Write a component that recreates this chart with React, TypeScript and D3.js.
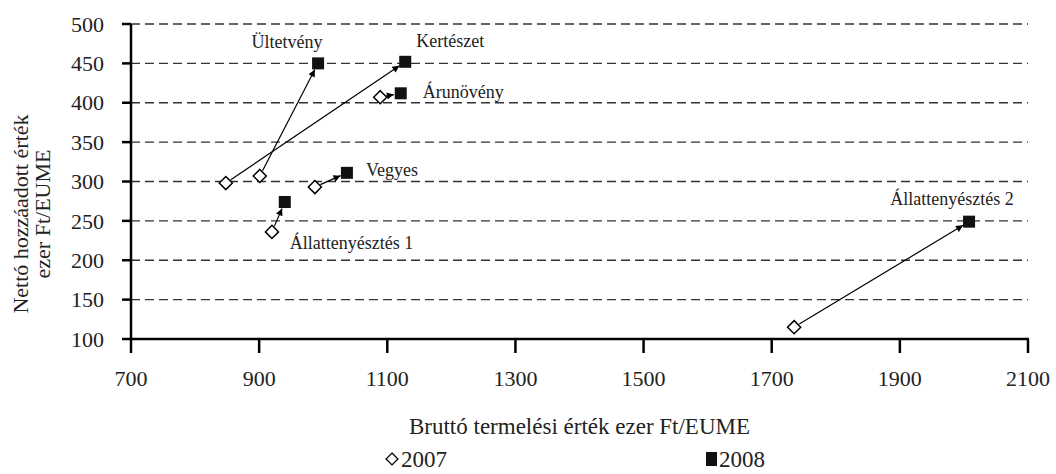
import React from "react";
import * as d3 from "d3";

const categories = ["Ültetvény", "Kertészet", "Árunövény", "Vegyes", "Állattenyésztés 1", "Állattenyésztés 2"];
const x2007 = [901, 848, 1089, 987, 920, 1735];
const y2007 = [307, 298, 407, 293, 236, 115];
const x2008 = [992, 1128, 1121, 1037, 940, 2008];
const y2008 = [450, 452, 412, 311, 274, 249];
const xTicks = [700, 900, 1100, 1300, 1500, 1700, 1900, 2100];
const yTicks = [100, 150, 200, 250, 300, 350, 400, 450, 500];
const seriesNames = ["2007", "2008"];

// label placement per category: [dx, dy, anchor] relative to 2008 point (style only)
const labelPos: [number, number, string][] = [
  [-31, -15, "middle"],
  [45, -15, "middle"],
  [22, 5, "start"],
  [19, 3, "start"],
  [5, 47, "start"],
  [-17, -17, "middle"],
];

const W = 1056, H = 474;
const FONT = "Liberation Serif, Times New Roman, DejaVu Serif, serif";

export default function App() {
  const x = d3.scaleLinear().domain([700, 2100]).range([131, 1028]);
  const y = d3.scaleLinear().domain([100, 500]).range([339, 24]);
  const diamond = d3.symbol().type(d3.symbolDiamond2).size(110)();
  const txt = { fontFamily: FONT, fill: "#222" } as React.CSSProperties;

  return (
    <svg width={W} height={H} style={{ position: "absolute", left: 0, top: 0, background: "#fff", fontFamily: FONT }}>
      <defs>
        <marker id="arr" viewBox="0 0 10 10" refX="10" refY="5" markerWidth="9" markerHeight="7" markerUnits="userSpaceOnUse" orient="auto">
          <path d="M0,0 L10,5 L0,10 z" fill="#000" />
        </marker>
      </defs>
      {yTicks.filter((t) => t > 100).map((t) => (
        <line key={"g" + t} x1={x(700)} x2={x(2100)} y1={y(t)} y2={y(t)} stroke="#333" strokeWidth={1.3} strokeDasharray="9,5" />
      ))}
      <line x1={x(700)} x2={x(700)} y1={y(500)} y2={y(100)} stroke="#000" strokeWidth={2.5} />
      {yTicks.map((t) => (
        <g key={"y" + t}>
          <line x1={x(700) - 9} x2={x(700)} y1={y(t)} y2={y(t)} stroke="#000" strokeWidth={2.5} />
          <text x={104} y={y(t)} dy="0.35em" textAnchor="end" fontSize={22} style={txt}>{t}</text>
        </g>
      ))}
      <line x1={x(700) - 1} x2={x(2100) + 1} y1={y(100)} y2={y(100)} stroke="#000" strokeWidth={2.5} />
      {xTicks.map((t) => (
        <g key={"x" + t}>
          <line x1={x(t)} x2={x(t)} y1={y(100)} y2={y(100) + 14} stroke="#000" strokeWidth={2.5} />
          <text x={x(t)} y={386} textAnchor="middle" fontSize={22} style={txt}>{t}</text>
        </g>
      ))}
      {categories.map((c, i) => {
        const x1 = x(x2007[i]), y1 = y(y2007[i]), x2 = x(x2008[i]), y2 = y(y2008[i]);
        const dx = x2 - x1, dy = y2 - y1, L = Math.hypot(dx, dy);
        const ux = dx / L, uy = dy / L;
        return (
          <line key={"a" + c} x1={x1 + ux * 6} y1={y1 + uy * 6} x2={x2 - ux * 7} y2={y2 - uy * 7} stroke="#000" strokeWidth={1.2} markerEnd="url(#arr)" />
        );
      })}
      {categories.map((c, i) => (
        <path key={"d" + c} d={diamond!} transform={`translate(${x(x2007[i])},${y(y2007[i])})`} fill="#fff" stroke="#000" strokeWidth={1.5} />
      ))}
      {categories.map((c, i) => (
        <rect key={"s" + c} x={x(x2008[i]) - 6} y={y(y2008[i]) - 6} width={12} height={12} fill="#111" />
      ))}
      {categories.map((c, i) => (
        <text key={"l" + c} x={x(x2008[i]) + labelPos[i][0]} y={y(y2008[i]) + labelPos[i][1]} textAnchor={labelPos[i][2] as any} fontSize={18} style={txt}>{c}</text>
      ))}
      <text x={(x(700) + x(2100)) / 2} y={434} textAnchor="middle" fontSize={23} style={txt}>Bruttó termelési érték ezer Ft/EUME</text>
      <g transform="translate(0,214)">
        <text transform="rotate(-90)" x={0} y={28} textAnchor="middle" fontSize={22} style={txt}>Nettó hozzáadott érték</text>
        <text transform="rotate(-90)" x={0} y={50} textAnchor="middle" fontSize={22} style={txt}>ezer Ft/EUME</text>
      </g>
      <g transform="translate(384,459)">
        <path d={d3.symbol().type(d3.symbolDiamond2).size(90)()!} transform="translate(8,0)" fill="#fff" stroke="#000" strokeWidth={1.3} />
        <text x={17} y={8} fontSize={23} style={txt}>{seriesNames[0]}</text>
      </g>
      <g transform="translate(706,459)">
        <rect x={0} y={-7} width={11} height={14} fill="#111" />
        <text x={13} y={8} fontSize={23} style={txt}>{seriesNames[1]}</text>
      </g>
    </svg>
  );
}
